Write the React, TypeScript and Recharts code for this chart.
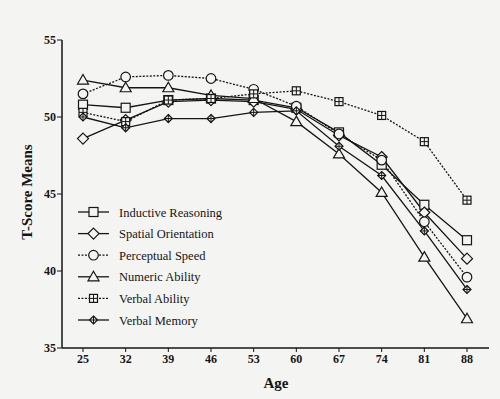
import React from 'react';
import { LineChart, Line, XAxis, YAxis, Label } from 'recharts';

// ages on the x axis
const ages = [25, 32, 39, 46, 53, 60, 67, 74, 81, 88];
const yTicks = [35, 40, 45, 50, 55];

const inductiveReasoning = [50.8, 50.6, 51.1, 51.2, 51.1, 50.6, 49.0, 46.9, 44.3, 42.0];
const spatialOrientation = [48.6, 49.8, 51.0, 51.1, 51.0, 50.5, 48.8, 47.4, 43.8, 40.8];
const perceptualSpeed = [51.5, 52.6, 52.7, 52.5, 51.8, 50.7, 48.9, 47.2, 43.2, 39.6];
const numericAbility = [52.4, 51.9, 51.9, 51.4, 51.2, 49.7, 47.6, 45.1, 40.9, 36.9];
const verbalAbility = [50.3, 49.7, 51.1, 51.2, 51.5, 51.7, 51.0, 50.1, 48.4, 44.6];
const verbalMemory = [50.0, 49.3, 49.9, 49.9, 50.3, 50.4, 48.1, 46.2, 42.6, 38.8];

const series = [
  { key: 'ir', name: 'Inductive Reasoning', values: inductiveReasoning, marker: 'square', dash: undefined },
  { key: 'so', name: 'Spatial Orientation', values: spatialOrientation, marker: 'diamond', dash: undefined },
  { key: 'ps', name: 'Perceptual Speed', values: perceptualSpeed, marker: 'circle', dash: '2 1.5' },
  { key: 'na', name: 'Numeric Ability', values: numericAbility, marker: 'triangle', dash: undefined },
  { key: 'va', name: 'Verbal Ability', values: verbalAbility, marker: 'boxplus', dash: '2 1.5' },
  { key: 'vm', name: 'Verbal Memory', values: verbalMemory, marker: 'memory', dash: undefined },
];

const data = ages.map((age, i) => {
  const row: any = { age };
  series.forEach((s) => (row[s.key] = s.values[i]));
  return row;
});

const INK = '#151515';
const BG = '#f4f4f2';
const FONT = '"Liberation Serif", "Times New Roman", serif';

function Marker({ kind, cx, cy }: { kind: string; cx: number; cy: number }) {
  const common = { fill: BG, stroke: INK, strokeWidth: 1.2 };
  switch (kind) {
    case 'square':
      return <rect x={cx - 4.5} y={cy - 4.5} width={9} height={9} {...common} />;
    case 'diamond':
      return <polygon points={`${cx},${cy - 5.5} ${cx + 5.5},${cy} ${cx},${cy + 5.5} ${cx - 5.5},${cy}`} {...common} />;
    case 'circle':
      return <circle cx={cx} cy={cy} r={4.8} {...common} />;
    case 'triangle':
      return <polygon points={`${cx},${cy - 5.5} ${cx + 5.5},${cy + 4} ${cx - 5.5},${cy + 4}`} {...common} />;
    case 'boxplus':
      return (
        <g>
          <rect x={cx - 4} y={cy - 4} width={8} height={8} {...common} />
          <line x1={cx} y1={cy - 4} x2={cx} y2={cy + 4} stroke={INK} strokeWidth={1} />
          <line x1={cx - 4} y1={cy} x2={cx + 4} y2={cy} stroke={INK} strokeWidth={1} />
        </g>
      );
    default:
      return (
        <g>
          <polygon points={`${cx},${cy - 4} ${cx + 4},${cy} ${cx},${cy + 4} ${cx - 4},${cy}`} {...common} />
          <line x1={cx} y1={cy - 4} x2={cx} y2={cy + 4} stroke={INK} strokeWidth={1} />
          <line x1={cx - 4} y1={cy} x2={cx + 4} y2={cy} stroke={INK} strokeWidth={1} />
        </g>
      );
  }
}

function LegendBox() {
  return (
    <svg width={160} height={130} style={{ position: 'absolute', left: 78, top: 203 }}>
      {series.map((s, i) => {
        const y = 9 + i * 21.6;
        return (
          <g key={s.key}>
            <line x1={0} y1={y} x2={31} y2={y} stroke={INK} strokeWidth={1.3} strokeDasharray={s.dash} />
            <Marker kind={s.marker} cx={15.5} cy={y} />
            <text x={41} y={y + 4.5} fontSize={12.5} fontFamily={FONT} fill={INK}>
              {s.name}
            </text>
          </g>
        );
      })}
    </svg>
  );
}

export default function App() {
  const tickStyle = { fill: INK, fontSize: 12, fontFamily: FONT, fontWeight: 'bold' as const };
  return (
    <div style={{ position: 'absolute', left: 0, top: 0, width: 500, height: 399, background: BG }}>
      <LineChart width={500} height={399} data={data} margin={{ top: 40, right: 11, bottom: 21, left: 12 }}>
        <XAxis
          dataKey="age"
          type="category"
          padding={{ left: 21, right: 22 }}
          tick={tickStyle}
          tickSize={4}
          tickMargin={2}
          axisLine={{ stroke: INK, strokeWidth: 1.5 }}
          tickLine={{ stroke: INK }}
          height={30}
        >
          <Label
            content={() => (
              <text x={276} y={388} textAnchor="middle" fontSize={15} fontWeight="bold" fontFamily={FONT} fill={INK}>
                Age
              </text>
            )}
          />
        </XAxis>
        <XAxis xAxisId="top" dataKey="age" orientation="top" tick={false} tickLine={false} height={0} axisLine={{ stroke: INK, strokeWidth: 1.5 }} />
        <YAxis
          domain={[35, 55]}
          ticks={yTicks}
          tick={tickStyle}
          tickSize={5}
          tickMargin={1}
          width={50}
          axisLine={{ stroke: INK, strokeWidth: 1.5 }}
          tickLine={{ stroke: INK }}
        >
          <Label
            content={() => (
              <text
                x={32}
                y={192}
                transform="rotate(-90 32 192)"
                textAnchor="middle"
                fontSize={15}
                fontWeight="bold"
                fontFamily={FONT}
                fill={INK}
              >
                T-Score Means
              </text>
            )}
          />
        </YAxis>
        <YAxis yAxisId="right" orientation="right" domain={[35, 55]} tick={false} tickLine={false} width={0} axisLine={{ stroke: INK, strokeWidth: 1.5 }} />
        {series.map((s) => (
          <Line
            key={s.key}
            dataKey={s.key}
            name={s.name}
            stroke={INK}
            strokeWidth={1.3}
            strokeDasharray={s.dash}
            isAnimationActive={false}
            dot={(p: any) => <Marker key={`${s.key}-${p.index}`} kind={s.marker} cx={p.cx} cy={p.cy} />}
            activeDot={false}
          />
        ))}
      </LineChart>
      <LegendBox />
    </div>
  );
}
